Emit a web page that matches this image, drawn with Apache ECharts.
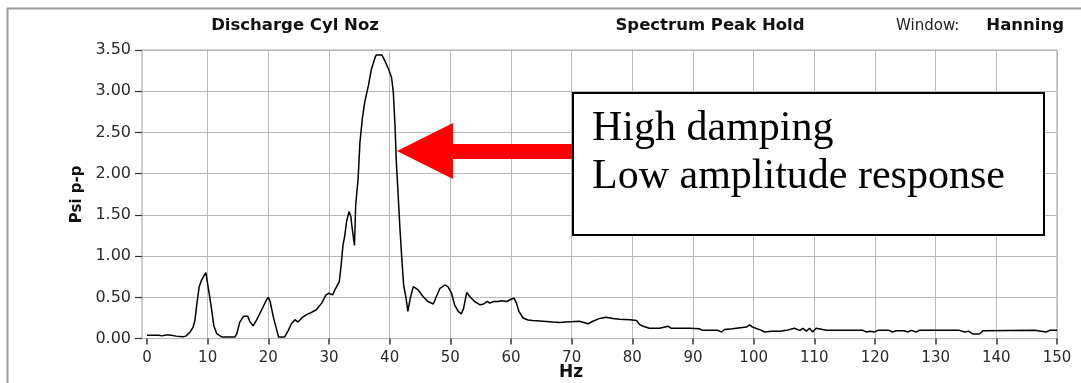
<!DOCTYPE html>
<html>
<head>
<meta charset="utf-8">
<script src="https://cdn.jsdelivr.net/npm/echarts@6/dist/echarts.min.js"></script>
<style>
  html, body { margin: 0; padding: 0; background: #fff; }
  #chart { width: 1081px; height: 383px; }
</style>
</head>
<body>
<div id="chart"></div>
<script>
// Frequency (Hz) and amplitude (Psi p-p)
const freqHz = [
  0, 1, 1.9, 2.5, 3.1, 3.7, 4.0, 4.8, 5.9, 6.4, 7.1, 7.6, 7.9, 8.2, 8.6, 9.0, 9.45, 9.7, 9.85,
  10.2, 10.7, 11.0, 11.5, 12.3, 13.5, 14.5, 14.8, 15.3, 15.9, 16.6, 17.0, 17.5, 18.1, 18.9, 19.7,
  20.0, 20.3, 20.8, 21.4, 21.7, 22.7, 23.3, 23.8, 24.4, 24.9, 25.5, 26.3, 26.9, 27.9, 28.8, 29.5,
  30.0, 30.6, 31.1, 31.7, 32.0, 32.3, 32.6, 32.9, 33.3, 33.6, 33.8, 34.2, 34.4, 34.8, 35.1, 35.5,
  35.9, 36.5, 37.0, 37.6, 37.8, 38.7, 39.2, 39.8, 40.3, 40.6, 40.9, 41.1, 41.4, 41.7, 42.0, 42.3,
  42.7, 43.0, 43.4, 43.9, 44.7, 45.5, 46.3, 47.2, 47.7, 48.3, 49.1, 49.6, 50.2, 50.7, 51.3, 51.8,
  52.2, 52.7, 53.2, 54.0, 54.9, 55.5, 56.1, 56.5, 57.1, 57.9, 58.5, 59.3, 60.1, 60.5, 60.9, 61.3,
  62.0, 62.8, 63.6, 65.3, 66.9, 68.0, 69.1, 71.3, 72.7, 73.5, 74.6, 75.7, 76.8, 77.9, 79.6, 80.7,
  81.2, 81.8, 82.8, 84.5, 85.9, 86.4, 89.5, 91.0, 91.6, 94.1, 94.7, 95.2, 96.5, 98.8, 99.3, 99.8,
  101.3, 101.8, 103.0, 104.3, 105.4, 106.7, 107.6, 108.1, 108.7, 109.2, 109.7, 110.3, 112.0, 115.8,
  118.0, 118.6, 119.2, 119.9, 120.5, 122.3, 122.9, 123.5, 124.8, 125.4, 126.0, 126.8, 127.3, 133.9,
  134.8, 135.4, 136.1, 137.2, 137.8, 146.3, 146.6, 148.2, 148.8, 150
];
const psiPP = [
  0.04, 0.04, 0.04, 0.033, 0.044, 0.044, 0.033, 0.03, 0.023, 0.03, 0.08, 0.14, 0.22, 0.41, 0.63, 0.71, 0.77, 0.80, 0.73,
  0.57, 0.33, 0.16, 0.06, 0.02, 0.02, 0.02, 0.06, 0.20, 0.27, 0.27, 0.20, 0.155, 0.23, 0.35, 0.47,
  0.50, 0.45, 0.27, 0.10, 0.02, 0.02, 0.10, 0.18, 0.23, 0.20, 0.25, 0.29, 0.31, 0.35, 0.43, 0.53,
  0.55, 0.53, 0.61, 0.69, 0.89, 1.13, 1.25, 1.42, 1.54, 1.48, 1.35, 1.13, 1.62, 1.94, 2.38, 2.67,
  2.87, 3.07, 3.27, 3.41, 3.44, 3.44, 3.37, 3.27, 3.17, 2.99, 2.55, 2.14, 1.74, 1.33, 0.97, 0.65,
  0.49, 0.33, 0.49, 0.63, 0.59, 0.51, 0.45, 0.42, 0.51, 0.61, 0.65, 0.63, 0.55, 0.41, 0.33, 0.30,
  0.37, 0.56, 0.51, 0.45, 0.41, 0.42, 0.45, 0.43, 0.45, 0.45, 0.46, 0.45, 0.48, 0.49, 0.43, 0.33,
  0.25, 0.225, 0.22, 0.21, 0.20, 0.195, 0.20, 0.21, 0.18, 0.21, 0.245, 0.26, 0.245, 0.235, 0.23, 0.22,
  0.17, 0.15, 0.125, 0.125, 0.15, 0.125, 0.125, 0.12, 0.10, 0.10, 0.08, 0.11, 0.12, 0.14, 0.165, 0.14,
  0.10, 0.08, 0.09, 0.09, 0.10, 0.125, 0.10, 0.125, 0.09, 0.125, 0.08, 0.125, 0.10, 0.10,
  0.10, 0.08, 0.09, 0.08, 0.10, 0.10, 0.08, 0.095, 0.095, 0.08, 0.10, 0.08, 0.10, 0.10,
  0.08, 0.09, 0.056, 0.056, 0.095, 0.10, 0.08, 0.08, 0.10, 0.10
];
const chartTitles = ['Discharge Cyl Noz', 'Spectrum Peak Hold'];
const windowLabel = 'Window:';
const windowValue = 'Hanning';
const yAxisName = 'Psi p-p';
const xAxisName = 'Hz';
const noteLines = ['High damping', 'Low amplitude response'];

const seriesData = freqHz.map((f, i) => [f, psiPP[i]]);

const chart = echarts.init(document.getElementById('chart'), null, { renderer: 'canvas' });
const gridColor = '#b8b8b8';
const labelColor = '#2a2a2a';

chart.setOption({
  animation: false,
  backgroundColor: '#ffffff',
  grid: [
    { left: 142, top: 50, width: 915, height: 288.6, show: true, borderColor: '#a0a0a0', borderWidth: 1, backgroundColor: '#ffffff' },
    { left: 147, top: 50, width: 910, height: 288.6 }
  ],
  xAxis: [
    { gridIndex: 0, type: 'value', min: 0, max: 1, show: false },
    {
      gridIndex: 1, type: 'value', min: 0, max: 150, interval: 10, offset: 3,
      axisLine: { show: false },
      axisTick: { show: true, length: 6, lineStyle: { color: '#333', width: 1.5 } },
      axisLabel: { fontSize: 15, fontFamily: 'DejaVu Sans', color: labelColor, margin: 9 },
      splitLine: { show: true, showMinLine: false, lineStyle: { color: gridColor, width: 1 } }
    }
  ],
  yAxis: [
    {
      gridIndex: 0, type: 'value', min: 0, max: 3.5, interval: 0.5,
      axisLine: { show: false },
      axisTick: { show: true, length: 7, lineStyle: { color: '#333', width: 1.2 } },
      axisLabel: { fontSize: 16, fontFamily: 'DejaVu Sans', color: labelColor, margin: 11,
        formatter: v => v.toFixed(2) },
      splitLine: { show: true, lineStyle: { color: gridColor, width: 1 } },
      name: yAxisName, nameLocation: 'middle', nameGap: 57,
      nameTextStyle: { fontWeight: 'bold', fontSize: 15, fontFamily: 'DejaVu Sans', color: '#111' }
    },
    { gridIndex: 1, type: 'value', min: 0, max: 3.5, show: false }
  ],
  series: [{
    type: 'line', xAxisIndex: 1, yAxisIndex: 1, data: seriesData,
    symbol: 'none', smooth: false,
    lineStyle: { color: '#000', width: 1.5 }
  }],
  graphic: [
    { type: 'line', z: 50, shape: { x1: 7.5, y1: 8, x2: 7.5, y2: 383 }, style: { stroke: '#9a9a9a', lineWidth: 2 } },
    { type: 'line', z: 50, shape: { x1: 7, y1: 8.5, x2: 1081, y2: 8.5 }, style: { stroke: '#9a9a9a', lineWidth: 2 } },
    { type: 'text', z: 50, x: 295, y: 26, style: { text: chartTitles[0], font: 'bold 16.5px "DejaVu Sans"', fill: '#111', align: 'center', verticalAlign: 'middle' } },
    { type: 'text', z: 50, x: 710, y: 26, style: { text: chartTitles[1], font: 'bold 16.5px "DejaVu Sans"', fill: '#111', align: 'center', verticalAlign: 'middle' } },
    { type: 'text', z: 50, x: 896, y: 26, style: { text: windowLabel, font: '15px "DejaVu Sans"', fill: '#222', align: 'left', verticalAlign: 'middle' } },
    { type: 'text', z: 50, x: 1064, y: 26, style: { text: windowValue, font: 'bold 16.5px "DejaVu Sans"', fill: '#111', align: 'right', verticalAlign: 'middle' } },
    { type: 'text', z: 50, x: 571, y: 373, style: { text: xAxisName, font: 'bold 17px "DejaVu Sans"', fill: '#111', align: 'center', verticalAlign: 'middle' } },
    { type: 'polygon', z: 60, shape: { points: [[397, 151], [453, 123], [453, 144], [574, 144], [574, 159], [453, 159], [453, 179]] }, style: { fill: '#ff0000' } },
    { type: 'rect', z: 70, shape: { x: 573, y: 93, width: 471, height: 142 }, style: { fill: '#ffffff', stroke: '#000', lineWidth: 2 } },
    { type: 'text', z: 80, x: 592, y: 129, style: { text: noteLines[0], font: '42px "Liberation Serif"', fill: '#000', align: 'left', verticalAlign: 'middle' } },
    { type: 'text', z: 80, x: 592, y: 177, style: { text: noteLines[1], font: '42px "Liberation Serif"', fill: '#000', align: 'left', verticalAlign: 'middle' } }
  ]
});
</script>
</body>
</html>
